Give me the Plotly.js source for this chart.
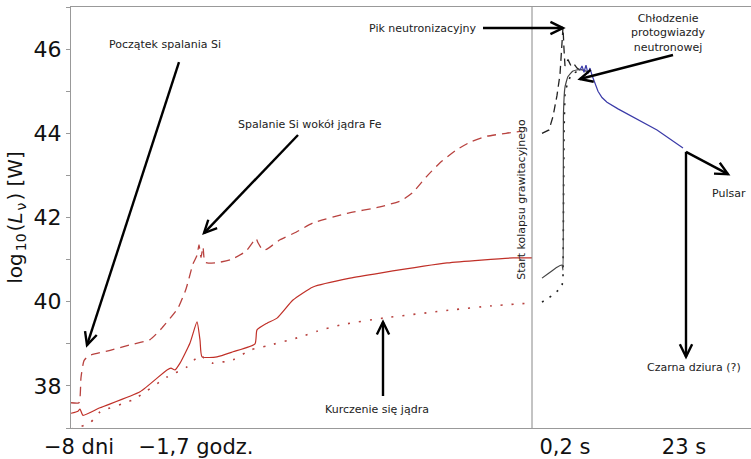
<!DOCTYPE html>
<html>
<head>
<meta charset="utf-8">
<script src="https://cdn.plot.ly/plotly-3.0.1.min.js"></script>
<style>html,body{margin:0;padding:0;background:#fff;}#chart{width:751px;height:459px;}</style>
</head>
<body>
<div id="chart"></div>
<script>
// x is an arbitrary, piecewise time coordinate (pre-collapse / post-collapse)
const tickVals = [8, 125, 494, 613];
const tickText = ['\u22128 dni', '\u22121,7 godz.', '0,2 s', '23 s'];

// pre-collapse (red)
const dashRedX = [0, 8, 10, 13, 18, 40, 60, 79, 90, 107, 115, 122, 126, 128, 130, 132, 134, 144, 160, 175, 185, 187, 192, 196, 209, 225, 242, 276, 309, 330, 342, 355, 369, 385, 400, 416, 435, 451];
const dashRedY = [37.6, 37.6, 38.2, 38.6, 38.72, 38.85, 38.98, 39.1, 39.35, 39.85, 40.3, 40.9, 41.1, 41.35, 41.05, 41.3, 40.94, 40.92, 41.0, 41.2, 41.5, 41.4, 41.22, 41.25, 41.47, 41.65, 41.87, 42.1, 42.25, 42.4, 42.6, 42.96, 43.3, 43.6, 43.8, 43.93, 44.0, 44.05];

const solidRedX = [0, 7, 9, 12, 29, 69, 96, 100, 104, 109, 119, 126, 129, 131, 146, 162, 184, 186, 196, 206, 222, 242, 279, 309, 376, 442, 461];
const solidRedY = [37.35, 37.4, 37.45, 37.3, 37.48, 37.86, 38.38, 38.42, 38.38, 38.54, 39.02, 39.52, 39.09, 38.69, 38.69, 38.81, 39.0, 39.33, 39.49, 39.61, 40.04, 40.35, 40.56, 40.68, 40.92, 41.04, 41.04];

const dotRedX = [0, 5, 19, 29, 62, 96, 116, 129, 136, 142, 162, 179, 196, 229, 246, 270, 312, 379, 420, 461];
const dotRedY = [36.98, 37.0, 37.12, 37.38, 37.67, 38.21, 38.45, 38.73, 38.6, 38.54, 38.62, 38.85, 38.95, 39.16, 39.3, 39.45, 39.61, 39.8, 39.9, 39.97];

// post-collapse (black / blue)
const dashBlackX = [471, 478, 482, 486, 489, 491, 492, 493, 494, 497, 500, 503, 506, 509];
const dashBlackY = [44.0, 44.08, 44.4, 44.9, 45.4, 46.0, 46.52, 46.0, 45.6, 45.75, 45.6, 45.65, 45.55, 45.5];

const solidBlackX = [471, 486, 491, 492, 492.5, 494, 497, 502, 509, 516];
const solidBlackY = [40.56, 40.82, 40.87, 40.75, 44.5, 45.1, 45.35, 45.48, 45.52, 45.47];

const dotBlackX = [471, 482, 491, 492, 493, 494, 500, 509];
const dotBlackY = [39.99, 40.16, 40.35, 40.59, 44.0, 45.0, 45.4, 45.5];

const blueX = [509, 511, 513, 515, 517, 519, 521, 524, 527, 531, 536, 547, 559, 586, 612];
const blueY = [45.5, 45.6, 45.45, 45.62, 45.42, 45.55, 45.38, 45.2, 45.0, 44.85, 44.74, 44.58, 44.43, 44.08, 43.65];

const collapseX = 461;

// annotation arrows: [tailX, tailY, tipX, tipY]
const arrows = [
  [108, 45.69, 16, 38.97],
  [227, 43.96, 133, 41.63],
  [412, 46.5, 492, 46.5],
  [602, 45.86, 509, 45.29],
  [615, 43.56, 657, 43.03],
  [615, 43.56, 615, 38.69],
  [312, 37.76, 312, 39.52]
];

const FONT = 'DejaVu Sans, Liberation Sans, sans-serif';
const red = '#b8423f';
const redSolid = '#c03028';

const X_RANGE = [0, 680], Y_RANGE = [37, 47];
const PLOT_W = 680, PLOT_H = 421;
const pxPerX = PLOT_W / (X_RANGE[1] - X_RANGE[0]);
const pxPerY = PLOT_H / (Y_RANGE[1] - Y_RANGE[0]);

const traces = [
  {x: dashRedX, y: dashRedY, mode: 'lines', line: {color: red, width: 1.3, dash: '9px,6px', shape: 'spline', smoothing: 0.5}},
  {x: solidRedX, y: solidRedY, mode: 'lines', line: {color: redSolid, width: 1.2, shape: 'spline', smoothing: 0.5}},
  {x: dotRedX, y: dotRedY, mode: 'lines', line: {color: red, width: 1.6, dash: '2px,9px', shape: 'spline', smoothing: 0.5}},
  {x: dashBlackX, y: dashBlackY, mode: 'lines', line: {color: '#222', width: 1.3, dash: '8px,5px'}},
  {x: dotBlackX, y: dotBlackY, mode: 'lines', line: {color: '#222', width: 1.6, dash: '2px,7px'}},
  {x: solidBlackX, y: solidBlackY, mode: 'lines', line: {color: '#444', width: 1.2, shape: 'spline', smoothing: 0.4}},
  {x: blueX, y: blueY, mode: 'lines', line: {color: '#3a3aa8', width: 1.2}}
];

const txtFont = {family: FONT, size: 11, color: '#222'};
function label(x, y, text, extra) {
  return Object.assign({x: x, y: y, xref: 'x', yref: 'y', text: text, showarrow: false, font: txtFont, xanchor: 'center', yanchor: 'middle'}, extra || {});
}

// build arrow shapes (shaft + open V head) in data coordinates
function arrowShapes(a) {
  const [x0, y0, x1, y1] = a;
  const dx = (x1 - x0) * pxPerX, dy = (y1 - y0) * pxPerY; // pixel direction (y up)
  const len = Math.hypot(dx, dy);
  const ux = dx / len, uy = dy / len;
  const L = 14, ang = 26 * Math.PI / 180;
  const pts = [ang, -ang].map(t => {
    const rx = ux * Math.cos(t) - uy * Math.sin(t);
    const ry = ux * Math.sin(t) + uy * Math.cos(t);
    return [x1 - rx * L / pxPerX, y1 - ry * L / pxPerY];
  });
  const ln = {color: '#000', width: 2.4};
  return [
    {type: 'line', xref: 'x', yref: 'y', x0: x0, y0: y0, x1: x1, y1: y1, line: ln},
    {type: 'path', xref: 'x', yref: 'y', path: `M${pts[0][0]},${pts[0][1]} L${x1},${y1} L${pts[1][0]},${pts[1][1]}`, line: ln}
  ];
}

const shapes = [{type: 'line', xref: 'x', yref: 'paper', x0: collapseX, x1: collapseX, y0: 0, y1: 1, line: {color: '#888', width: 1}}];
arrows.forEach(a => shapes.push(...arrowShapes(a)));

const annotations = [
  label(94, 46.12, 'Początek spalania Si'),
  label(239, 44.2, 'Spalanie Si wokół jądra Fe'),
  label(351, 46.5, 'Pik neutronizacyjny'),
  label(597, 46.38, 'Chłodzenie<br>protogwiazdy<br>neutronowej'),
  label(658, 42.58, 'Pulsar'),
  label(623, 38.43, 'Czarna dziura (?)'),
  label(306, 37.43, 'Kurczenie się jądra'),
  label(451, 42.42, 'Start kolapsu grawitacyjnego', {textangle: -90}),
  {xref: 'paper', yref: 'paper', x: -0.082, y: 0.5, text: 'log<sub>10</sub>(<i>L</i><sub>ν</sub>) [W]', showarrow: false,
   textangle: -90, font: {family: FONT, size: 20, color: '#111'}, xanchor: 'center', yanchor: 'middle'}
];

const layout = {
  width: 751, height: 459,
  margin: {l: 71, r: 0, t: 7, b: 31},
  paper_bgcolor: '#fff', plot_bgcolor: '#fff',
  showlegend: false,
  font: {family: FONT, color: '#111'},
  xaxis: {range: X_RANGE, tickmode: 'array', tickvals: tickVals, ticktext: tickText, ticks: '', showgrid: false, zeroline: false,
          showline: true, mirror: true, linecolor: '#999', linewidth: 1, tickfont: {family: FONT, size: 21, color: '#111'}},
  yaxis: {range: Y_RANGE, tickmode: 'linear', tick0: 38, dtick: 2, ticks: 'outside', ticklen: 4, tickcolor: '#999',
          minor: {tickmode: 'linear', tick0: 37, dtick: 1, ticks: 'outside', ticklen: 4, tickcolor: '#999', showgrid: false},
          showgrid: false, zeroline: false, showline: true, linecolor: '#999', linewidth: 1,
          tickfont: {family: FONT, size: 22, color: '#111'}},
  shapes: shapes,
  annotations: annotations
};

Plotly.newPlot('chart', traces, layout, {displayModeBar: false, staticPlot: true}).then(gd => {
  // drop empty placeholder text nodes (unused titles)
  gd.querySelectorAll('svg text').forEach(t => { if (!t.textContent.replace(/\u200b/g, '').trim()) t.remove(); });
  // zero-width spacers around sub/superscripts: give them a hair-width glyph
  gd.querySelectorAll('svg text').forEach(t => {
    const walker = document.createTreeWalker(t, NodeFilter.SHOW_TEXT);
    let n;
    while ((n = walker.nextNode())) {
      if (n.nodeValue.indexOf('\u200b') !== -1) n.nodeValue = n.nodeValue.replace(/\u200b/g, '\u200a');
    }
  });
});
</script>
</body>
</html>
